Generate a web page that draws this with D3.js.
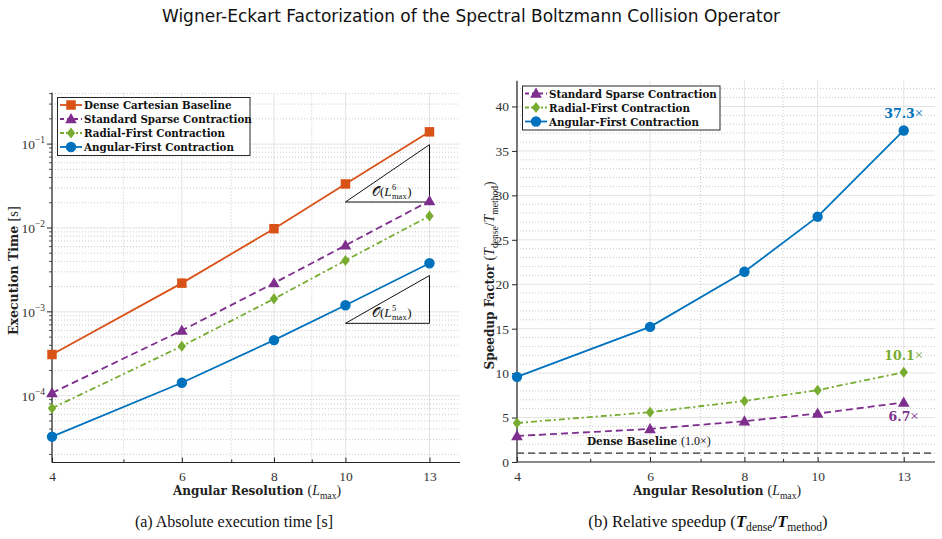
<!DOCTYPE html>
<html><head><meta charset="utf-8">
<script src="https://cdn.jsdelivr.net/npm/d3@7"></script>
<style>
body{margin:0;background:#fff;}
svg{display:block;}
</style></head>
<body>
<svg id="chart" width="942" height="539"></svg>
<script>
// ---------- data ----------
const lmax = [4, 6, 8, 10, 13];
const xTickLabels = ["4", "6", "8", "10", "13"];
const xMinorTicks = [5, 7, 9];
const tDense   = [3.1e-4, 2.2e-3, 9.8e-3, 3.35e-2, 1.40e-1];
const tSparse  = [1.08e-4, 6.0e-4, 2.2e-3, 6.2e-3, 2.1e-2];
const tRadial  = [7.1e-5, 3.9e-4, 1.43e-3, 4.1e-3, 1.39e-2];
const tAngular = [3.25e-5, 1.43e-4, 4.6e-4, 1.2e-3, 3.8e-3];
const sSparse  = [2.93, 3.72, 4.59, 5.45, 6.7];
const sRadial  = [4.39, 5.6, 6.87, 8.08, 10.1];
const sAngular = [9.58, 15.2, 21.4, 27.6, 37.3];
const seriesNames = ["Dense Cartesian Baseline", "Standard Sparse Contraction", "Radial-First Contraction", "Angular-First Contraction"];
const speedLabels = ["6.7", "10.1", "37.3"];
const leftYTicks = [1e-4, 1e-3, 1e-2, 1e-1];
const leftYTickExp = ["−4", "−3", "−2", "−1"];
const rightYTicks = [0, 5, 10, 15, 20, 25, 30, 35, 40];
// slope guide triangles: [x start, x end, base y, order]
const slopeGuides = [[10, 13, 0.0204, 6], [10, 13, 7.3e-4, 5]];

// ---------- styles ----------
const C = {dense:"#D95319", sparse:"#7E2F8E", radial:"#77AC30", angular:"#0072BD", axis:"#262626"};
const styles = [
  {color:C.dense, dash:null, marker:"square"},
  {color:C.sparse, dash:"7,4", marker:"triangle"},
  {color:C.radial, dash:"6,3,2,3", marker:"diamond"},
  {color:C.angular, dash:null, marker:"circle"}
];
const BOLD = "'DejaVu Serif', serif";
const SERIF = "'Liberation Serif', 'DejaVu Serif', serif";

const svg = d3.select("#chart");

// title
svg.append("text").attr("x", 471).attr("y", 22).attr("text-anchor","middle")
  .attr("font-family","'DejaVu Sans', sans-serif").attr("font-size",17).attr("fill","#111")
  .text("Wigner-Eckart Factorization of the Spectral Boltzmann Collision Operator");

function markerPath(type, size){
  const s = size;
  if(type==="square") return `M${-s/2},${-s/2}h${s}v${s}h${-s}Z`;
  if(type==="triangle") return `M0,${-s*0.6}L${s*0.58},${s*0.42}L${-s*0.58},${s*0.42}Z`;
  if(type==="diamond") return `M0,${-s*0.55}L${s*0.42},0L0,${s*0.55}L${-s*0.42},0Z`;
  return null;
}
function drawMarker(g, type, x, y, color){
  if(type==="circle"){
    g.append("circle").attr("cx",x).attr("cy",y).attr("r",5.2).attr("fill",color);
  } else {
    g.append("path").attr("d", markerPath(type, type==="square"?9.5:10)).attr("transform",`translate(${x},${y})`).attr("fill",color);
  }
}

function mathLabel(sel, parts, size){
  // b bold-extended text; r regular serif; i italic; B bold serif; s subscript; u return from subscript
  parts.forEach(p=>{
    const t = sel.append("tspan").text(p[0]);
    const st = p[1];
    if(st==="b"){ t.attr("font-family",BOLD).attr("font-weight","bold").attr("font-size",size); }
    else {
      t.attr("font-family",SERIF).attr("font-weight", st.includes("B")?"bold":"normal").attr("font-size",size*1.15);
    }
    if(st.includes("i")) t.attr("font-style","italic");
    if(st.includes("s")) t.attr("font-size", size*0.8).attr("dy", size*0.3);
    if(st.includes("u")) t.attr("dy", -size*0.3);
  });
}

function xAxisStuff(g, x, y, x0, x1, yB, yT){
  g.append("g").selectAll("line").data(xMinorTicks).join("line")
    .attr("x1",d=>x(d)).attr("x2",d=>x(d)).attr("y1",yB).attr("y2",yT)
    .attr("stroke","#bdbdbd").attr("stroke-width",0.8).attr("stroke-dasharray","1,2");
  g.append("g").selectAll("line").data(lmax).join("line")
    .attr("x1",d=>x(d)).attr("x2",d=>x(d)).attr("y1",yB).attr("y2",yT)
    .attr("stroke","#e3e3e3").attr("stroke-width",1);
}

function xAxisDraw(g, x, yB, x0, x1){
  const ax = g.append("g").attr("transform",`translate(0,${yB})`)
    .call(d3.axisBottom(x).tickValues(lmax).tickFormat((d,i)=>xTickLabels[i]).tickSize(-5).tickPadding(9));
  ax.select(".domain").remove();
  ax.selectAll(".tick line").attr("stroke",C.axis);
  ax.selectAll(".tick text").attr("font-family",SERIF).attr("font-size",13.5).attr("fill","#333");
  const axm = g.append("g").attr("transform",`translate(0,${yB})`)
    .call(d3.axisBottom(x).tickValues(xMinorTicks).tickFormat("").tickSize(-3));
  axm.select(".domain").remove();
  axm.selectAll(".tick line").attr("stroke",C.axis);
  g.append("line").attr("x1",x0).attr("x2",x1).attr("y1",yB).attr("y2",yB).attr("stroke",C.axis).attr("stroke-width",1.2);
}

function drawSeries(g, x, y, vals, st){
  const line = d3.line().x((d,i)=>x(lmax[i])).y(d=>y(d));
  const p = g.append("path").datum(vals).attr("d",line).attr("fill","none")
    .attr("stroke",st.color).attr("stroke-width",1.8);
  if(st.dash) p.attr("stroke-dasharray",st.dash);
  vals.forEach((v,i)=>drawMarker(g, st.marker, x(lmax[i]), y(v), st.color));
}

function legend(g, x0, y0, w, h, idxs, rowH, lineX0, lineX1, textX, fs){
  g.append("rect").attr("x",x0).attr("y",y0).attr("width",w).attr("height",h)
    .attr("fill","#fff").attr("stroke",C.axis).attr("stroke-width",1);
  idxs.forEach((k,j)=>{
    const yy = y0 + rowH*(j+0.5) + 0.5;
    const st = styles[k];
    const l = g.append("line").attr("x1",lineX0).attr("x2",lineX1).attr("y1",yy).attr("y2",yy)
      .attr("stroke",st.color).attr("stroke-width",1.8);
    if(st.dash) l.attr("stroke-dasharray", k===2?"4,2,2,2":"4,3");
    drawMarker(g, st.marker, (lineX0+lineX1)/2, yy, st.color);
    g.append("text").attr("x",textX).attr("y",yy+4).attr("font-family",BOLD).attr("font-weight","bold")
      .attr("font-size",fs).attr("fill","#111").text(seriesNames[k]);
  });
}

function orderLabel(g, cx, by, ord){
  const fs = 13;
  const t = g.append("text").attr("y",by).attr("font-family",SERIF).attr("font-size",fs).attr("fill","#111");
  t.append("tspan").text("𝒪(");
  t.append("tspan").text("L").attr("font-style","italic");
  const w1 = t.node().getComputedTextLength();
  const sup = g.append("text").attr("y",by-6).attr("font-family",SERIF).attr("font-size",8.5).attr("fill","#111").text(String(ord));
  const sub = g.append("text").attr("y",by+3).attr("font-family",SERIF).attr("font-size",8.5).attr("fill","#111").text("max");
  const ws = sub.node().getComputedTextLength();
  const close = g.append("text").attr("y",by).attr("font-family",SERIF).attr("font-size",fs).attr("fill","#111").text(")");
  const wc = close.node().getComputedTextLength();
  const total = w1 + ws + 0.5 + wc;
  const sx = cx - total/2;
  t.attr("x", sx);
  sup.attr("x", sx + w1 + 0.5);
  sub.attr("x", sx + w1 + 0.5);
  close.attr("x", sx + w1 + ws + 1);
}

// ================= LEFT PANEL =================
{
  const x0=52, x1=460, yT=92.7, yB=462.5;
  const g = svg.append("g");
  const x = d3.scaleLog().domain([4, 14.3]).range([x0, x1]);
  const y = d3.scaleLog().domain([1.6e-5, 0.41]).range([yB, yT]);
  const minor = [];
  for(let e=-5;e<=0;e++) for(let m=2;m<=9;m++){ const v=m*Math.pow(10,e); if(v>=1.6e-5 && v<=0.41) minor.push(v); }
  g.append("g").selectAll("line").data(minor).join("line")
    .attr("x1",x0).attr("x2",x1).attr("y1",d=>y(d)).attr("y2",d=>y(d))
    .attr("stroke","#bdbdbd").attr("stroke-width",0.8).attr("stroke-dasharray","1,2");
  g.append("g").selectAll("line").data(leftYTicks).join("line")
    .attr("x1",x0).attr("x2",x1).attr("y1",d=>y(d)).attr("y2",d=>y(d))
    .attr("stroke","#e3e3e3").attr("stroke-width",1);
  xAxisStuff(g, x, y, x0, x1, yB, yT);
  g.append("line").attr("x1",x0).attr("x2",x0).attr("y1",yT).attr("y2",yB).attr("stroke",C.axis).attr("stroke-width",1.2);
  g.append("g").selectAll("line").data(leftYTicks).join("line")
    .attr("x1",x0-5).attr("x2",x0).attr("y1",d=>y(d)).attr("y2",d=>y(d)).attr("stroke",C.axis);
  g.append("g").selectAll("line").data(minor).join("line")
    .attr("x1",x0-3).attr("x2",x0).attr("y1",d=>y(d)).attr("y2",d=>y(d)).attr("stroke",C.axis).attr("stroke-width",0.8);
  leftYTicks.forEach((v,i)=>{
    const t = g.append("text").attr("x",x0-7).attr("y",y(v)+5).attr("text-anchor","end")
      .attr("font-family",SERIF).attr("font-size",13.5).attr("fill","#333");
    t.append("tspan").text("10");
    t.append("tspan").text(leftYTickExp[i]).attr("font-size",9.5).attr("dy",-6);
  });
  xAxisDraw(g, x, yB, x0, x1);
  slopeGuides.forEach((sg,k)=>{
    const [a,b,base,ord] = sg;
    const top = base*Math.pow(b/a, ord);
    g.append("path").attr("d",`M${x(a)},${y(base)}L${x(b)},${y(base)}L${x(b)},${y(top)}Z`)
      .attr("fill","none").attr("stroke","#111").attr("stroke-width",1);
    orderLabel(g, (x(a)+x(b))/2 + 4, y(base)-6, ord);
  });
  [tDense, tSparse, tRadial, tAngular].forEach((vals,k)=>drawSeries(g, x, y, vals, styles[k]));
  legend(g, 57.5, 97.5, 192.5, 58, [0,1,2,3], 14, 60, 82, 84, 10.3);
  const xl = g.append("text").attr("x",(x0+x1)/2+1).attr("y",495).attr("text-anchor","middle").attr("fill","#222");
  mathLabel(xl, [["Angular Resolution ","b"],["(","r"],["L","i"],["max","s"],[")","ru"]], 12);
  const yl = g.append("text").attr("transform",`translate(18,${(yT+yB)/2-7})rotate(-90)`).attr("text-anchor","middle").attr("fill","#222");
  mathLabel(yl, [["Execution Time ","b"],["[s]","r"]], 12.5);
  g.append("text").attr("x",234).attr("y",527).attr("text-anchor","middle").attr("font-family",SERIF).attr("font-size",16).attr("fill","#111")
    .text("(a) Absolute execution time [s]");
}

// ================= RIGHT PANEL =================
{
  const x0=517, x1=935, yT=80.7, yB=462;
  const g = svg.append("g");
  const x = d3.scaleLog().domain([4, 14.3]).range([x0, x1]);
  const y = d3.scaleLinear().domain([0, 42.9]).range([yB, yT]);
  const minor = d3.range(1, 43).filter(v=>v%5!==0);
  g.append("g").selectAll("line").data(minor).join("line")
    .attr("x1",x0).attr("x2",x1).attr("y1",d=>y(d)).attr("y2",d=>y(d))
    .attr("stroke","#bdbdbd").attr("stroke-width",0.8).attr("stroke-dasharray","1,2");
  g.append("g").selectAll("line").data(rightYTicks).join("line")
    .attr("x1",x0).attr("x2",x1).attr("y1",d=>y(d)).attr("y2",d=>y(d))
    .attr("stroke","#e3e3e3").attr("stroke-width",1);
  xAxisStuff(g, x, y, x0, x1, yB, yT);
  g.append("line").attr("x1",x0).attr("x2",x0).attr("y1",yT).attr("y2",yB).attr("stroke",C.axis).attr("stroke-width",1.2);
  const ay = g.append("g").attr("transform",`translate(${x0},0)`)
    .call(d3.axisLeft(y).tickValues(rightYTicks).tickSize(5).tickPadding(3));
  ay.select(".domain").remove();
  ay.selectAll(".tick line").attr("stroke",C.axis);
  ay.selectAll(".tick text").attr("font-family",SERIF).attr("font-size",13.5).attr("fill","#333");
  xAxisDraw(g, x, yB, x0, x1);
  g.append("line").attr("x1",x0).attr("x2",x1).attr("y1",y(1)).attr("y2",y(1))
    .attr("stroke","#333").attr("stroke-width",1.2).attr("stroke-dasharray","7,4");
  const bt = g.append("text").attr("x",587).attr("y",y(1)-8).attr("fill","#111");
  mathLabel(bt, [["Dense Baseline ","b"],["(1.0×)","r"]], 10.5);
  [null, sSparse, sRadial, sAngular].forEach((vals,k)=>{ if(vals) drawSeries(g, x, y, vals, styles[k]); });
  const ann = [[sSparse, C.sparse, 19, 0],[sRadial, C.radial, -12, 1],[sAngular, C.angular, -12, 2]];
  ann.forEach(([vals,col,dy,i])=>{
    const t = g.append("text").attr("x",x(13)).attr("y",y(vals[4])+dy).attr("text-anchor","middle")
      .attr("fill",col);
    t.append("tspan").text(speedLabels[i]).attr("font-family",BOLD).attr("font-weight","bold").attr("font-size",12.5);
    t.append("tspan").text("×").attr("font-family",SERIF).attr("font-size",15);
  });
  legend(g, 522.5, 86, 197.5, 44, [1,2,3], 14, 525, 547, 549, 10.3);
  const xl = g.append("text").attr("x",(x0+x1)/2-9).attr("y",495).attr("text-anchor","middle").attr("fill","#222");
  mathLabel(xl, [["Angular Resolution ","b"],["(","r"],["L","i"],["max","s"],[")","ru"]], 12);
  const yl = g.append("text").attr("transform",`translate(494,${(yT+yB)/2+4})rotate(-90)`).attr("text-anchor","middle").attr("fill","#222");
  mathLabel(yl, [["Speedup Factor ","b"],["(","r"],["T","i"],["dense","s"],["/","ru"],["T","i"],["method","s"],[")","ru"]], 12);
  const sc = g.append("text").attr("x",708).attr("y",527).attr("text-anchor","middle").attr("fill","#111");
  mathLabel(sc, [["(b) Relative speedup (","r"],["T","Bi"],["dense","s"],["/","Bu"],["T","Bi"],["method","s"],[")","ru"]], 14.5);
}
</script>
</body></html>
